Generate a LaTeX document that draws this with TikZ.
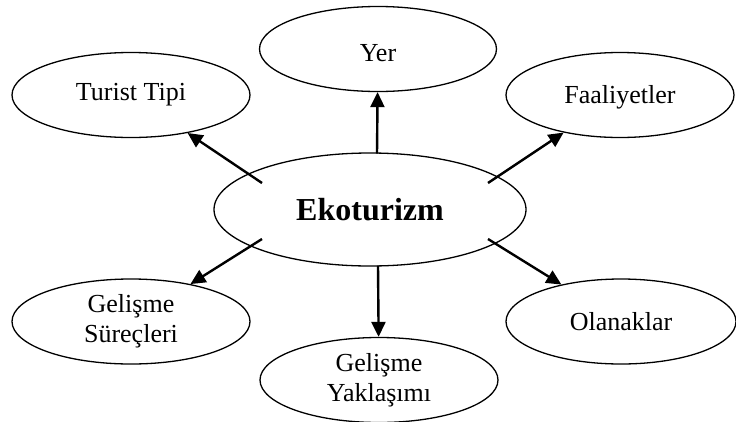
\documentclass[tikz,border=0pt]{standalone}
\usepackage{fontspec}
\setmainfont{Liberation Serif}
\usetikzlibrary{shapes.geometric,arrows.meta,calc}
\begin{document}
\begin{tikzpicture}[x=1pt,y=-1pt,
  bub/.style={ellipse,draw,line width=1.3pt,inner sep=0pt,align=center,
    minimum width=236pt,minimum height=85pt,font=\fontsize{26}{30}\selectfont},
  conn/.style={line width=2.4pt,-{Triangle[length=15pt,width=14pt]}}]
\useasboundingbox (0,0) rectangle (736,421);
\node[bub,minimum width=312pt,minimum height=113pt,font=\fontsize{32}{36}\selectfont\bfseries] (c) at (370,209.5) {Ekoturizm};
\node[bub,minimum width=238pt] (tt) at (131,95) {Turist Tipi};
\node[bub,minimum width=237pt] (yer) at (378,49) {\raisebox{-4pt}[\height][\depth]{Yer}};
\node[bub,minimum width=228pt] (fa) at (620,95) {\raisebox{-2pt}[\height][\depth]{Faaliyetler}};
\node[bub,minimum width=238pt] (gs) at (131,321.5) {Gelişme\\Süreçleri};
\node[bub,minimum width=238pt] (gy) at (379,380) {Gelişme\\Yaklaşımı};
\node[bub,minimum width=230pt] (ol) at (621,321.5) {Olanaklar};
\coordinate (s1) at ($(c.center)+(-108,-26.5)$);
\coordinate (s2) at ($(c.center)+(7,-56)$);
\coordinate (s3) at ($(c.center)+(118,-26.5)$);
\coordinate (s4) at ($(c.center)+(-108,29.5)$);
\coordinate (s5) at ($(c.center)+(8,56)$);
\coordinate (s6) at ($(c.center)+(118,29.5)$);
\draw[conn] (s1) -- (tt);
\draw[conn] (s2) -- (yer);
\draw[conn] (s3) -- (fa);
\draw[conn] (s4) -- (gs);
\draw[conn] (s5) -- (gy);
\draw[conn] (s6) -- (ol);
\end{tikzpicture}
\end{document}
